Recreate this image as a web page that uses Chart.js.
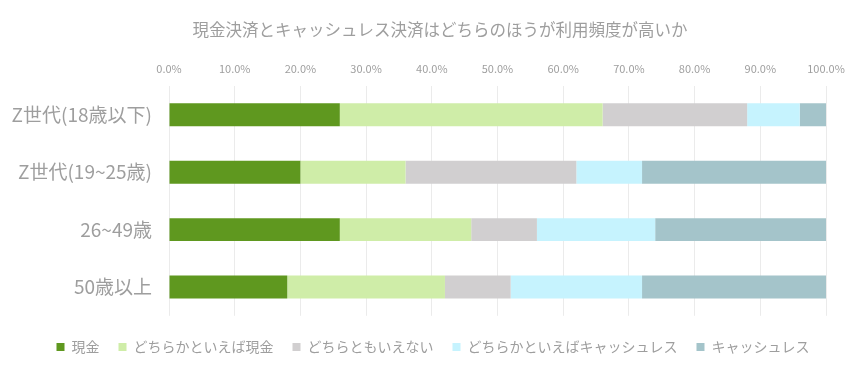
<!DOCTYPE html>
<html lang="ja">
<head>
<meta charset="UTF-8">
<title>現金決済とキャッシュレス決済</title>
<script src="https://cdn.jsdelivr.net/npm/chart.js"></script>
<style>
  body { margin: 0; background: #fff; }
  #wrap { width: 866px; height: 376px; }
</style>
</head>
<body>
<div id="wrap"><canvas id="chart"></canvas></div>
<script>
// 年代別
const groups = ['Z世代(18歳以下)', 'Z世代(19~25歳)', '26~49歳', '50歳以上'];
// 回答（%）
const cash        = [26, 20, 26, 18];
const ratherCash  = [40, 16, 20, 24];
const neither     = [22, 26, 10, 10];
const ratherLess  = [8, 10, 18, 20];
const cashless    = [4, 28, 26, 28];

const seriesNames = ['現金', 'どちらかといえば現金', 'どちらともいえない', 'どちらかといえばキャッシュレス', 'キャッシュレス'];
const colors = ['#5f981f', '#cfeda8', '#d1cfd0', '#c6f3fe', '#a4c4ca'];

const font = '"Noto Sans CJK JP", "Noto Sans", sans-serif';
const grey = '#9e9e9e';

// タイトルと凡例をキャンバス全体の中央に寄せる
const recenter = {
  id: 'recenter',
  afterLayout(chart) {
    if (chart.legend) { chart.legend.left = 0; chart.legend.right = chart.width; }
    if (chart.titleBlock) { chart.titleBlock.left = 14; chart.titleBlock.right = chart.width; }
  }
};

new Chart(document.getElementById('chart'), {
  type: 'bar',
  data: {
    labels: groups,
    datasets: [cash, ratherCash, neither, ratherLess, cashless].map((d, i) => ({
      label: seriesNames[i],
      data: d,
      backgroundColor: colors[i],
      borderWidth: 0,
      barPercentage: 0.4,
      categoryPercentage: 1
    }))
  },
  plugins: [recenter],
  options: {
    indexAxis: 'y',
    responsive: true,
    maintainAspectRatio: false,
    animation: false,
    layout: { padding: { top: 18, right: 40, left: 0, bottom: 12 } },
    plugins: {
      title: {
        display: true,
        text: '現金決済とキャッシュレス決済はどちらのほうが利用頻度が高いか',
        color: grey,
        font: { family: font, size: 16.5, weight: 'normal' },
        padding: { top: 2, bottom: 11 }
      },
      legend: {
        position: 'bottom',
        title: { display: true, text: ' ', font: { size: 1 }, padding: 2 },
        labels: {
          color: grey,
          font: { family: font, size: 14 },
          boxWidth: 8,
          boxHeight: 8,
          padding: 19
        }
      },
      tooltip: { enabled: false }
    },
    scales: {
      x: {
        position: 'top',
        stacked: true,
        min: 0,
        max: 100,
        ticks: {
          stepSize: 10,
          color: grey,
          font: { family: font, size: 11 },
          padding: 11,
          callback: v => v.toFixed(1) + '%'
        },
        grid: { color: '#ebebeb', drawTicks: false },
        border: { display: false }
      },
      y: {
        stacked: true,
        afterFit: scale => { scale.width = 169; },
        ticks: {
          color: grey,
          font: { family: font, size: 19 },
          padding: 9
        },
        grid: { display: false },
        border: { display: false }
      }
    }
  }
});
</script>
</body>
</html>
